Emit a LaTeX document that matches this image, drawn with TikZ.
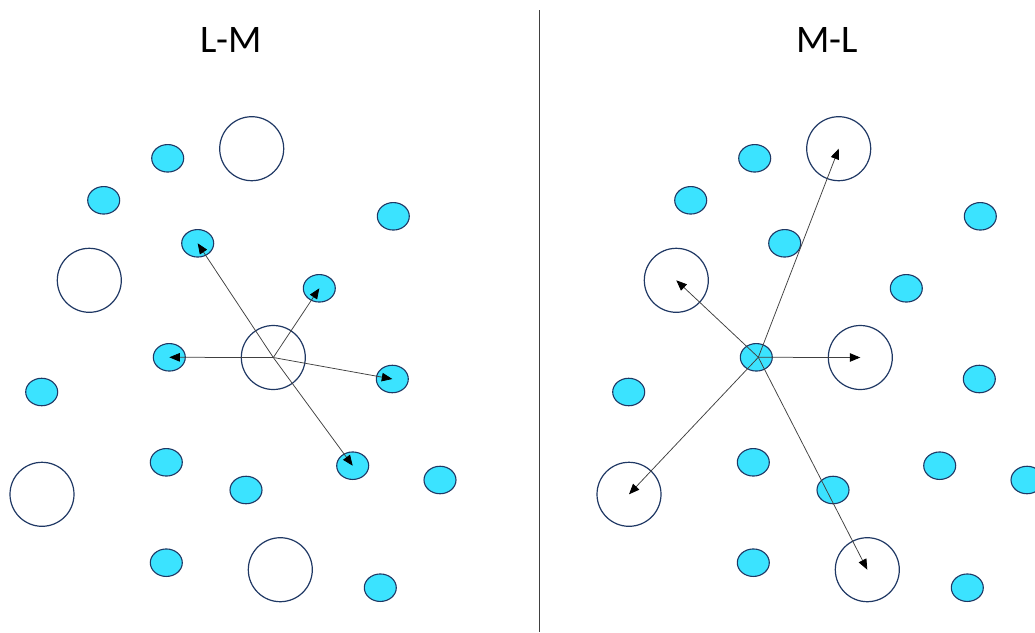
\documentclass[tikz,border=0pt]{standalone}
\usepackage{fontspec}
\setmainfont{Carlito}
\usetikzlibrary{arrows.meta,shapes.geometric}
\definecolor{dotfill}{HTML}{3BE3FF}
\definecolor{rim}{HTML}{1F3864}
\definecolor{wire}{HTML}{404040}
\begin{document}
\begin{tikzpicture}[x=1pt,y=-1pt,
  small/.style={ellipse, draw=rim, line width=1.1pt, fill=dotfill,
    minimum width=32pt, minimum height=27.5pt, inner sep=0pt},
  big/.style={circle, draw=rim, line width=1.2pt, minimum size=64pt, inner sep=0pt},
  link/.style={draw=wire, line width=0.75pt,
    -{Triangle[length=10.5pt,width=8.5pt,color=black]}},
  title/.style={font=\fontsize{39}{44}\selectfont, inner sep=0pt},
  divider/.style={draw=wire, line width=0.8pt}]
  \fill[white] (0,0) rectangle (1035,632);
  \useasboundingbox (0,0) rectangle (1035,632);

  % panel titles
  \node[title] (tL) at (231,40) {L-M};
  \node[title] (tR) at (827,40) {M-L};

  % divider between the panels
  \coordinate (dTop) at (539,10);
  \coordinate (dBot) at (539,632);
  \draw[divider] (dTop) -- (dBot);

  % the same layout of points in both panels (right one shifted by 587)
  \foreach \p/\x/\y in {a/167.7/158.3, b/103.7/200.3, c/393.3/216.3,
      d/197.7/243.3, e/319.3/288.3, f/169.3/357.3, g/392.3/379,
      h/41.7/392, i/166.3/462.3, j/352.7/465.7, k/246/490, l/440/480,
      m/166.3/562.7, n/380.3/587.7}{
    \node[small] (L\p) at (\x,\y) {};
    \node[small] (R\p) at (\x+587,\y) {};
  }
  \foreach \p/\x/\y in {B1/251.7/148.7, B2/89.3/280.3, B3/273.3/357.5,
      B4/42/494.3, B5/280.3/569.7}{
    \node[big] (L\p) at (\x,\y) {};
    \node[big] (R\p) at (\x+587,\y) {};
  }

  % L-M: from the large circle to nearby small points
  \foreach \t in {d,e,f,g,j}
    \draw[link] (LB3.center) -- (L\t.center);

  % M-L: from the small point to the large circles
  \foreach \t in {B1,B2,B3,B4,B5}
    \draw[link] ([xshift=2pt]Rf.center) -- (R\t.center);
\end{tikzpicture}
\end{document}
